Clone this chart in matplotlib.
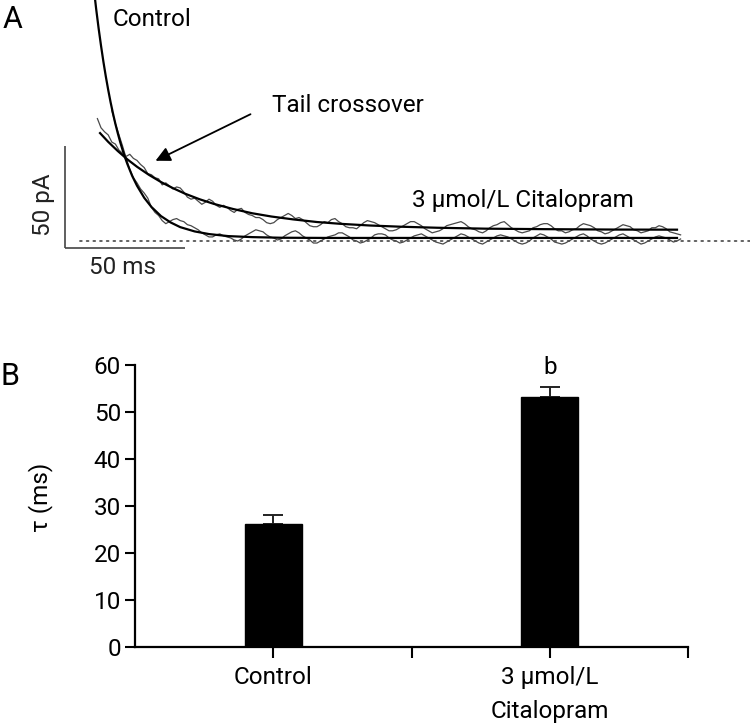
import numpy as np
import matplotlib
matplotlib.use("Agg")
import matplotlib.pyplot as plt

plt.rcParams['font.family'] = ['Roboto', 'DejaVu Sans']

# ---------------- Panel A data (time in ms, current in pA) ----------------
ctl_fit_t = [12, 13, 14, 15, 16, 17, 18, 19, 20, 21, 22, 23, 24, 25, 26, 28, 30, 33, 36, 40, 44, 48, 54, 60, 68, 78, 90, 110, 150, 200, 255]
ctl_fit_i = [123.8, 113.6, 104.3, 95.8, 87.9, 80.7, 74.1, 68.0, 62.5, 57.4, 52.8, 48.5, 44.6, 41.0, 37.7,
             31.9, 27.1, 21.2, 16.7, 12.2, 9.1, 6.8, 4.7, 3.4, 2.4, 1.9, 1.6, 1.5, 1.5, 1.5, 1.5]
cit_fit_t = [14.6, 18, 22, 26, 30, 35, 40, 45, 50, 56, 62, 70, 78, 86, 95, 105, 115, 127, 140, 155, 175, 200, 230, 255]
cit_fit_i = [52.9, 48.6, 44.1, 40.0, 36.4, 32.4, 28.9, 25.9, 23.2, 20.5, 18.2, 15.7, 13.6, 12.0, 10.6,
             9.3, 8.4, 7.6, 7.0, 6.5, 6.05, 5.8, 5.6, 5.55]

cit_trace_t0, ctl_trace_t0, trace_dt = 13.5, 19.5, 1.5
cit_trace_i = [60.0, 55.5, 53.5, 52.0, 48.5, 47.5, 44.5, 43.0, 41.5, 42.5, 40.5, 39.5, 37.5, 36.0, 33.0, 32.5, 31.0, 30.5, 27.5, 28.5,
               27.0, 25.5, 26.5, 26.0, 24.0, 21.5, 20.5, 21.0, 19.5, 18.0, 19.0, 20.5, 19.5, 17.5, 16.5, 17.5, 16.5, 15.0, 14.0, 15.5,
               16.0, 14.0, 13.0, 12.5, 11.5, 11.5, 10.5, 9.0, 8.5, 9.0, 10.5, 11.5, 12.5, 13.5, 12.5, 11.0, 11.5, 10.5, 9.0, 7.5,
               7.0, 7.0, 8.0, 9.5, 9.0, 10.5, 11.0, 9.5, 8.5, 7.0, 6.5, 6.5, 6.0, 7.5, 9.0, 10.0, 9.5, 9.0, 8.0, 7.0,
               6.0, 5.0, 5.0, 5.5, 6.5, 7.5, 8.5, 9.5, 9.5, 8.5, 7.5, 6.0, 5.0, 4.0, 4.5, 5.0, 6.0, 7.5, 8.0, 8.5,
               9.0, 9.5, 8.5, 7.0, 6.0, 5.5, 4.5, 4.0, 5.0, 6.5, 7.5, 8.0, 9.0, 9.5, 8.0, 6.5, 5.5, 4.5, 4.0, 4.5,
               5.0, 6.5, 7.0, 8.0, 8.5, 8.5, 7.5, 6.0, 5.0, 5.0, 4.0, 4.5, 5.5, 6.0, 7.5, 8.5, 8.0, 7.5, 6.5, 5.0,
               4.5, 3.5, 4.0, 5.0, 6.0, 7.0, 8.0, 7.5, 7.0, 5.5, 5.0, 4.0, 4.5, 5.0, 6.5, 6.5, 7.5, 7.0, 6.0, 4.5,
               4.0, 3.5, 3.0]
ctl_trace_i = [64.0, 57.5, 52.0, 46.5, 40.5, 35.0, 31.0, 28.5, 25.5, 23.5, 21.0, 16.5, 14.0, 12.5, 10.0, 8.5, 9.5, 10.5, 11.0, 10.0,
               9.5, 8.0, 7.5, 6.5, 5.5, 4.0, 3.0, 2.0, 2.0, 3.0, 3.5, 2.5, 2.0, 1.5, 0.5, 0.0, 1.0, 2.5, 3.5, 4.5,
               5.5, 5.0, 4.5, 3.0, 2.0, 1.5, 0.5, 1.0, 2.5, 3.5, 4.5, 5.0, 4.0, 2.5, 1.5, 0.5, -1.0, -1.0, 0.0, 1.0,
               2.0, 2.5, 3.0, 4.0, 4.0, 3.0, 2.0, 0.5, 0.0, -1.0, -0.5, 0.5, 1.5, 3.0, 3.5, 3.5, 3.0, 1.5, 0.5, 0.0,
               -1.0, -0.5, 0.5, 1.5, 2.5, 3.0, 3.5, 2.5, 1.5, 0.5, -0.5, -1.0, -1.5, -0.5, 0.5, 1.5, 2.5, 3.5, 3.0, 2.0,
               1.0, 0.0, -1.0, -1.5, -0.5, 0.5, 1.5, 2.5, 3.0, 2.5, 2.0, 1.0, 0.0, -1.0, -1.5, -1.0, 0.0, 1.5, 2.5, 3.5,
               3.0, 2.0, 1.0, -0.5, -1.0, -1.5, -1.0, 0.0, 1.0, 2.0, 3.0, 3.5, 2.5, 1.0, 0.0, -1.0, -1.5, -1.0, 0.0, 1.0,
               2.0, 3.0, 3.5, 2.5, 1.5, 0.5, -0.5, -1.5, -1.0, 0.0, 1.0, 2.0, 2.5, 2.0, 1.5, 0.5, -0.5, 0.0, 1.0]

scale_pa = 50
scale_ms = 50

# ---------------- Panel B data ----------------
categories = ["Control", "3 \u03bcmol/L\nCitalopram"]
tau_mean = [26.1, 53.2]
tau_sem = [1.9, 2.1]
sig_labels = ["", "b"]
y_ticks = [0, 10, 20, 30, 40, 50, 60]

FS = 17.5
W, H = 750, 728
fig = plt.figure(figsize=(W / 100, H / 100), dpi=100)

# ---------- Panel A ----------
axA = fig.add_axes([0, (H - 290) / H, 1, 290 / H])
px_per_ms, px_per_pa, x0_px, base_px = 2.4, 2.04, 65, 241
axA.set_xlim((0 - x0_px) / px_per_ms, (W - x0_px) / px_per_ms)
axA.set_ylim(-(290 - base_px) / px_per_pa, base_px / px_per_pa)
axA.axis('off')

cit_t = cit_trace_t0 + trace_dt * np.arange(len(cit_trace_i))
ctl_t = ctl_trace_t0 + trace_dt * np.arange(len(ctl_trace_i))

xl = axA.get_xlim()
axA.plot([(80 - x0_px) / px_per_ms, xl[1]], [0, 0], color='#555555', lw=1.3,
         linestyle=(0, (1, 2.7)), dash_capstyle='round')
axA.plot(cit_t, cit_trace_i, color='#4a4a4a', lw=0.9)
axA.plot(ctl_t, ctl_trace_i, color='#4a4a4a', lw=0.9)
axA.plot(ctl_fit_t, ctl_fit_i, color='black', lw=1.6)
axA.plot(cit_fit_t, cit_fit_i, color='black', lw=1.6)

# scale bars
yb = -(248 - base_px) / px_per_pa
axA.plot([0, 0], [yb, yb + scale_pa], color='#444444', lw=1.2, solid_capstyle='butt')
axA.plot([0, scale_ms], [yb, yb], color='#444444', lw=1.2, solid_capstyle='butt')
axA.text((43 - x0_px) / px_per_ms, (base_px - 205) / px_per_pa, "50 pA", rotation=90,
         ha='center', va='center', fontsize=FS, color='#222222')
axA.text((122 - x0_px) / px_per_ms, (base_px - 268) / px_per_pa, "50 ms",
         ha='center', va='center', fontsize=FS, color='#222222')

axA.text((152 - x0_px) / px_per_ms, (base_px - 20) / px_per_pa, "Control", ha='center', va='center', fontsize=FS)
axA.text((348 - x0_px) / px_per_ms, (base_px - 105) / px_per_pa, "Tail crossover", ha='center', va='center', fontsize=FS)
axA.text((523 - x0_px) / px_per_ms, (base_px - 201) / px_per_pa, "3 \u03bcmol/L Citalopram", ha='center', va='center', fontsize=FS)
axA.annotate("", xy=((153 - x0_px) / px_per_ms, (base_px - 162) / px_per_pa),
             xytext=((253 - x0_px) / px_per_ms, (base_px - 113) / px_per_pa),
             arrowprops=dict(arrowstyle='-|>', color='black', lw=1.3, mutation_scale=22))

fig.text(13 / W, 1 - 20 / H, "A", ha='center', va='center', fontsize=22)
fig.text(10 / W, 1 - 376 / H, "B", ha='center', va='center', fontsize=22)

# ---------- Panel B ----------
axB = fig.add_axes([135 / W, (H - 647) / H, (688 - 135) / W, (647 - 365) / H])
pos = [1, 3]
axB.bar(pos, tau_mean, width=0.41, color='black', edgecolor='black', zorder=2)
axB.errorbar(pos, tau_mean, yerr=[[0, 0], tau_sem], fmt='none', ecolor='#222222',
             elinewidth=1.4, capsize=7, capthick=1.4, zorder=1)
for p, m, s, lab in zip(pos, tau_mean, tau_sem, sig_labels):
    if lab:
        axB.text(p, 58.1, lab, ha='center', va='baseline', fontsize=FS)
axB.set_xlim(0, 4)
axB.set_ylim(0, 60)
axB.set_yticks(y_ticks)
axB.set_xticks([1, 2, 3, 4])
axB.set_xticklabels([categories[0], "", categories[1], ""], fontsize=FS, linespacing=1.6)
axB.tick_params(axis='y', labelsize=FS, direction='out', length=7, width=1.5, pad=3)
axB.tick_params(axis='x', direction='out', length=8, width=1.5, pad=6)
for sp in ['top', 'right']:
    axB.spines[sp].set_visible(False)
for sp in ['left', 'bottom']:
    axB.spines[sp].set_linewidth(1.6)
axB.set_ylabel("\u03c4 (ms)", fontsize=FS)
axB.yaxis.set_label_coords((53 - 135) / 553, (647 - 497) / 282)

fig.savefig("out.png", dpi=100)
